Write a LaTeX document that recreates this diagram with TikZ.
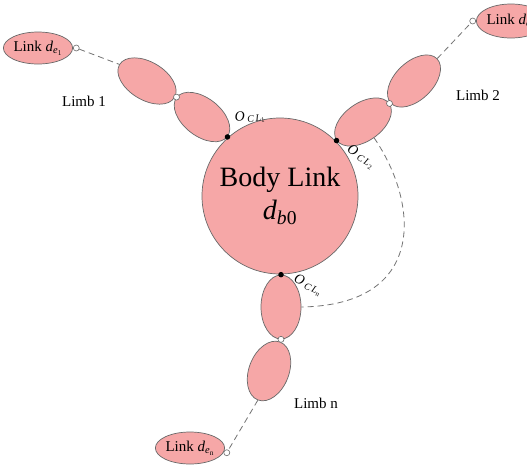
\documentclass[tikz,border=0pt]{standalone}
\usepackage{fontspec}
\setmainfont{Liberation Serif}
\usetikzlibrary{shapes.geometric}
\definecolor{linkfill}{RGB}{246,167,167}
\definecolor{linkline}{RGB}{105,105,105}
\definecolor{chaingray}{RGB}{115,115,115}
\tikzset{
  link/.style={ellipse, draw=linkline, fill=linkfill, line width=0.7pt, inner sep=0pt},
  limbseg/.style={link, minimum width=64pt, minimum height=38pt},
  tiplink/.style={link, minimum width=60pt, minimum height=32pt, font=\fontsize{15}{15}\selectfont},
  joint/.style={circle, draw=linkline, fill=white, line width=0.6pt, inner sep=0pt, minimum size=6pt},
  fixjoint/.style={circle, fill=black, inner sep=0pt, minimum size=5.5pt},
  chain/.style={draw=chaingray, line width=0.8pt, dash pattern=on 6pt off 4pt},
  limblabel/.style={font=\fontsize{15}{15}\selectfont},
  framelabel/.style={font=\fontsize{14}{14}\selectfont, inner sep=0pt},
}
\newcommand{\tipname}[1]{Link \textit{d}\textsubscript{\textit{e}\textsubscript{#1}}}
\newcommand{\framename}[1]{\textit{O}\,\textsubscript{\textit{C\,L}\textsubscript{#1}}}
\begin{document}
\begin{tikzpicture}[x=1pt,y=-1pt]
\clip (0,0) rectangle (527,472);
\fill[white] (0,0) rectangle (527,472);

% central body
\node[link, circle, minimum size=156pt, align=center, font=\fontsize{28}{33}\selectfont]
  (body) at (280,196) {Body Link\\\textit{d}\textsubscript{\textit{b}0}};

% limb 1
\node[limbseg, rotate=-38] (l1a) at (202,117) {};
\node[limbseg, rotate=-31] (l1b) at (147,81) {};
\node[tiplink] (le1) at (38,48) {\tipname{1}};

% limb 2
\node[limbseg, rotate=35] (l2a) at (363,122) {};
\node[limbseg, rotate=44] (l2b) at (414,81) {};
\node[tiplink, minimum width=62pt, minimum height=34pt] (le2) at (511,21) {\tipname{2}};

% limb n
\node[limbseg, minimum width=40pt, minimum height=64pt] (lna) at (281,307) {};
\node[limbseg, minimum width=62pt, minimum height=40pt, rotate=69] (lnb) at (269,371) {};
\node[tiplink] (len) at (190,448) {\tipname{n}};

% joints
\node[fixjoint] (c1) at (l1a.east) {};
\node[joint] (j1) at (l1a.west) {};
\node[joint, anchor=west] (j1e) at (le1.east) {};
\node[fixjoint] (c2) at (l2a.west) {};
\node[joint] (j2) at (l2a.east) {};
\node[joint, anchor=east] (j2e) at (le2.west) {};
\node[fixjoint] (cn) at (lna.north) {};
\node[joint] (jn) at (lna.south) {};
\node[joint, anchor=west] (jne) at (len.-8) {};

% omitted chain segments
\draw[chain] (j1e) -- (l1b.west);
\draw[chain] (l2b.east) -- (j2e);
\draw[chain] (lnb.west) -- (jne);
\draw[chain] (l2a.south) .. controls (420,205) and (426,305) .. (lna.east);

% labels
\node[limblabel] (lab1) at (84,101) {Limb 1};
\node[limblabel] (lab2) at (478,95) {Limb 2};
\node[limblabel] (labn) at (316,403) {Limb n};
\node[framelabel, rotate=5] (o1) at (250,117) {\framename{1}};
\node[framelabel, rotate=-30] (o2) at (361,157) {\framename{2}};
\node[framelabel, rotate=-25] (on) at (308,285) {\framename{n}};
\end{tikzpicture}
\end{document}
